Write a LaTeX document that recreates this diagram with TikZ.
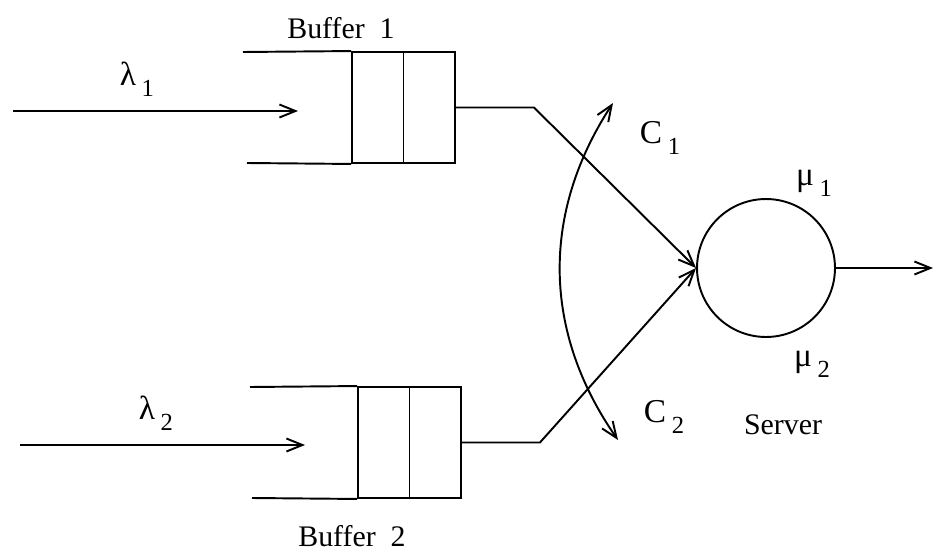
\documentclass[tikz,border=0pt]{standalone}
\usepackage{fontspec}
\setmainfont{Liberation Serif}
\usetikzlibrary{arrows.meta}
\usetikzlibrary{positioning}

\newcommand{\lowsub}[1]{\,\raisebox{-0.7ex}{\fontsize{14}{16}\selectfont #1}}

\begin{document}
\begin{tikzpicture}[x=0.02cm, y=0.02cm, line width=1.1pt,
    every node/.style={font=\fontsize{17}{20}\selectfont},
    greek/.style={font=\fontsize{19}{22}\selectfont},
    buf/.style={draw, minimum width=2.06cm, minimum height=2.22cm, inner sep=0pt},
    srvbox/.style={draw, circle, minimum size=2.76cm, inner sep=0pt},
    tip/.style={-{Straight Barb[length=3.2mm, width=2.6mm]}},
    twotip/.style={{Straight Barb[length=3.2mm, width=2.6mm]}-{Straight Barb[length=3.2mm, width=2.6mm]}}]
  \useasboundingbox (0,0) rectangle (934,556);

  % buffers
  \node[buf] (box1) at (403.5,448.5) {};
  \node[buf] (box2) at (409.5,113.5) {};
  \draw (box1.north) -- (box1.south);
  \draw (box2.north) -- (box2.south);
  \coordinate (b1top) at (243,504);
  \coordinate (b1bot) at (247,393);
  \coordinate (b2top) at (250,169);
  \coordinate (b2bot) at (252,58);
  \draw (b1top) -- (box1.north west);
  \draw (b1bot) -- (box1.south west);
  \draw (b2top) -- (box2.north west);
  \draw (b2bot) -- (box2.south west);
  \node (name1) at (341,528) {Buffer\ \ 1};
  \node (name2) at (352,20) {Buffer\ \ 2};

  % arrivals
  \coordinate (in1) at (13,445);
  \coordinate (end1) at (298,445);
  \coordinate (in2) at (20,111);
  \coordinate (end2) at (305,111);
  \draw[tip] (in1) -- (end1);
  \draw[tip] (in2) -- (end2);
  \node[greek] (lam1) at (137,477) {λ\lowsub{1}};
  \node[greek] (lam2) at (156,143) {λ\lowsub{2}};

  % server
  \node[srvbox] (srv) at (766,288) {};
  \coordinate (out) at (933,288);
  \draw[tip] (srv.east) -- (out);
  \draw[tip] (box1.east) -- ++(78,0) -- (srv.west);
  \draw[tip] (box2.east) -- ++(78,0) -- (srv.west);
  \node[greek] (mu1) at (814,373) {μ\lowsub{1}};
  \node[greek] (mu2) at (812,192) {μ\lowsub{2}};
  \node (srvname) at (783,131) {Server};

  % switch
  \coordinate (ctop) at (613,453);
  \coordinate (cbot) at (618,116);
  \draw[twotip] (ctop) to[bend right=34] (cbot);
  \node[greek] (c1) at (660,418) {C\lowsub{1}};
  \node[greek] (c2) at (664,139) {C\lowsub{2}};
\end{tikzpicture}
\end{document}
